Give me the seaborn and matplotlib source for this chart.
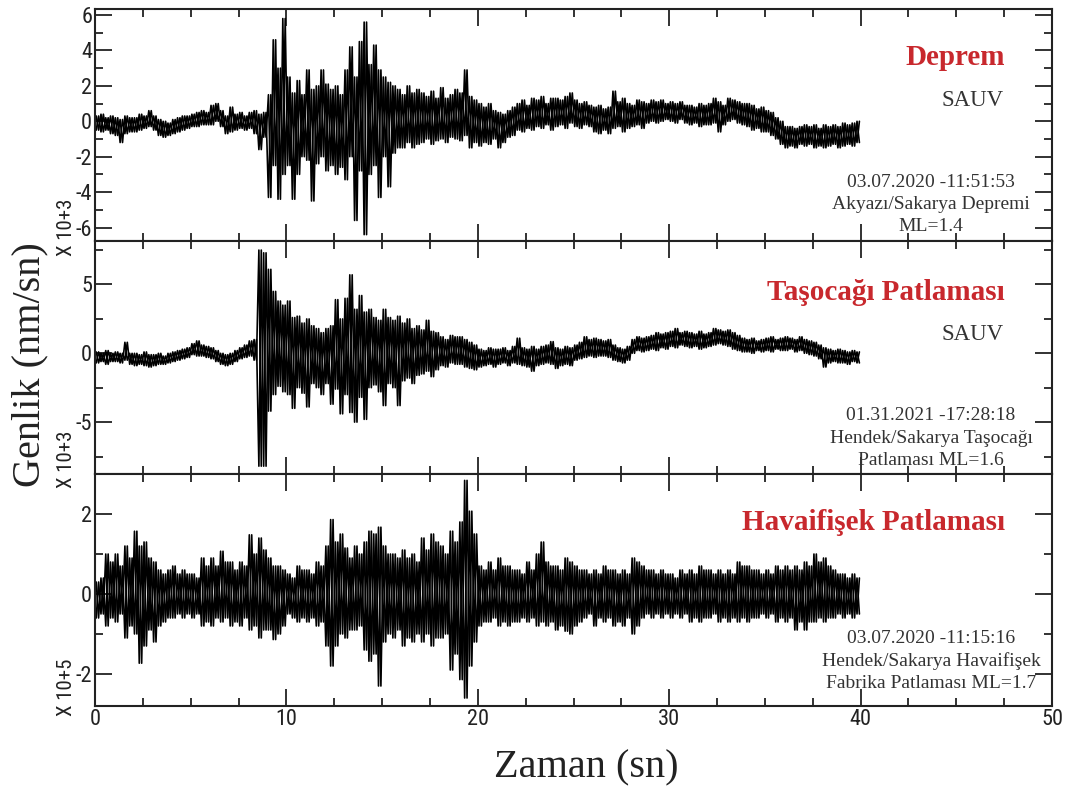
import numpy as np
import pandas as pd
import matplotlib
matplotlib.use("Agg")
import matplotlib.pyplot as plt
import seaborn as sns
from matplotlib import font_manager as fm
from matplotlib.ticker import MultipleLocator

# Envelope of each record: upper / lower peak per 0.25 s window (x 10^3 or 10^5 nm/sn)
DT = 0.25

deprem_hi = [
    0.3, 0.4, 0.2, 0.3,   0.2, 0.1, 0.3, 0.2,   0.2, 0.4, 0.3, 0.6,   0.3, 0.1, 0.0, -0.1,
    0.1, 0.2, 0.3, 0.3,   0.4, 0.5, 0.6, 0.5,   0.9, 1.0, 0.6, 0.3,   0.8, 0.4, 0.5, 0.3,
    0.5, 0.6, 0.4, 0.5,   1.5, 4.6, 3.0, 5.8,   2.5, 1.6, 2.3, 1.5,   2.9, 1.8, 2.0, 2.9,
    2.1, 1.8, 2.0, 1.5,   2.9, 4.2, 2.5, 4.5,   5.6, 3.2, 4.3, 2.9,   2.5, 2.2, 2.0, 1.8,
    1.5, 2.0, 1.6, 1.8,   1.6, 1.4, 1.7, 1.3,   1.9, 1.3, 1.5, 1.8,   1.6, 2.9, 1.4, 1.2,
    1.0, 0.8, 1.0, 0.6,   0.5, 0.4, 0.6, 0.8,   1.0, 1.2, 0.9, 1.3,   1.2, 1.4, 1.0, 1.3,
    1.3, 1.2, 1.4, 1.6,   1.2, 1.0, 1.1, 0.9,   0.8, 0.9, 0.7, 0.8,   1.7, 1.1, 1.3, 1.0,
    0.9, 1.2, 1.1, 1.0,   1.2, 1.1, 1.2, 1.0,   1.1, 1.0, 1.1, 0.9,   0.9, 0.8, 1.0, 0.9,
    1.0, 1.3, 1.1, 0.9,   1.3, 1.2, 1.1, 1.0,   1.0, 0.9, 0.7, 0.8,   0.6, 0.5, 0.2, 0.0,
    -0.3, -0.3, -0.4, -0.3, -0.2, -0.3, -0.2, -0.4, -0.2, -0.3, -0.2, -0.3, -0.1, -0.2, -0.1, 0.0,
]
deprem_lo = [
    -0.5, -0.6, -0.5, -0.7, -0.8, -1.2, -0.7, -0.6, -0.6, -0.5, -0.4, -0.3, -0.5, -0.8, -0.9, -0.8,
    -0.7, -0.6, -0.5, -0.4, -0.3, -0.3, -0.2, -0.2, -0.2, 0.0, -0.3, -0.7, -0.6, -0.5, -0.4, -0.5,
    -0.4, -0.7, -1.6, -0.9, -4.3, -2.5, -4.4, -3.0, -2.5, -4.4, -3.0, -2.0, -2.2, -4.5, -2.4, -2.0,
    -2.8, -2.5, -3.0, -2.6, -3.3, -2.0, -5.6, -2.8, -6.4, -3.0, -2.5, -4.3, -2.0, -3.7, -1.8, -1.5,
    -1.5, -1.2, -1.5, -1.3, -1.2, -1.0, -1.3, -1.1, -1.0, -1.2, -0.9, -1.0, -1.1, -0.8, -1.5, -1.2,
    -1.4, -1.2, -1.3, -1.0, -1.5, -1.2, -0.9, -0.8, -0.5, -0.6, -0.4, -0.5, -0.3, -0.4, -0.2, -0.5,
    -0.3, -0.2, -0.4, -0.1, -0.3, -0.4, -0.2, -0.3, -0.6, -0.7, -0.5, -0.7, -0.4, -0.3, -0.6, -0.4,
    -0.3, -0.2, -0.4, -0.1, 0.0, -0.1, 0.0, 0.1, 0.0, -0.1, 0.1, -0.1, -0.2, -0.1, -0.3, -0.2,
    -0.2, -0.1, -0.6, -0.2, 0.0, 0.1, -0.1, -0.2, -0.3, -0.5, -0.4, -0.6, -0.6, -0.8, -1.0, -1.3,
    -1.5, -1.4, -1.5, -1.3, -1.4, -1.3, -1.5, -1.4, -1.5, -1.4, -1.3, -1.5, -1.4, -1.3, -1.4, -1.2,
]

tasocagi_hi = [
    0.1, 0.0, 0.2, 0.0,   0.1, 0.0, 0.8, 0.0,   0.0, -0.1, 0.1, -0.1, -0.1, 0.0, -0.2, 0.0,
    0.1, 0.2, 0.3, 0.4,   0.7, 0.9, 0.6, 0.5,   0.4, 0.2, 0.0, -0.1,  0.0, 0.2, 0.4, 0.6,
    0.9, 1.0, 7.5, 7.3,   6.1, 4.5, 3.8, 3.5,   3.8, 2.6, 2.7, 2.2,   2.5, 2.0, 1.8, 1.5,
    1.8, 2.0, 3.9, 2.5,   4.0, 5.7, 3.2, 4.2,   3.0, 3.2, 2.6, 2.4,   3.2, 2.6, 2.4, 2.7,
    2.2, 2.5, 1.8, 2.0,   1.7, 2.4, 1.6, 1.5,   1.2, 1.0, 1.3, 1.2,   1.2, 1.0, 0.8, 0.6,
    0.3, 0.2, 0.4, 0.3,   0.3, 0.4, 0.2, 0.5,   1.1, 0.4, 0.3, 0.5,   0.3, 0.5, 0.6, 0.85,
    0.4, 0.3, 0.5, 0.4,   0.6, 0.8, 1.2, 1.0,   1.1, 1.0, 0.9, 1.0,   0.6, 0.4, 0.3, 0.5,
    1.0, 1.2, 1.1, 1.2,   1.3, 1.5, 1.4, 1.5,   1.6, 1.8, 1.5, 1.6,   1.5, 1.4, 1.6, 1.4,
    1.5, 1.8, 1.7, 1.6,   1.7, 1.5, 1.3, 1.1,   1.0, 1.1, 0.9, 1.0,   1.1, 1.2, 1.0, 1.1,
    1.2, 1.1, 1.0, 1.2,   1.0, 0.9, 0.8, 0.6,   0.4, 0.3, 0.2, 0.3,   0.2, 0.1, 0.2, 0.1,
]
tasocagi_lo = [
    -0.7, -0.6, -0.8, -0.6, -0.6, -0.7, -0.5, -0.8, -0.9, -0.8, -0.9, -1.0, -0.9, -0.8, -0.8, -0.7,
    -0.6, -0.5, -0.4, -0.3, -0.1, -0.2, -0.2, -0.3, -0.4, -0.6, -0.8, -0.9, -0.8, -0.6, -0.4, -0.3,
    -0.2, -0.5, -8.2, -8.2, -4.2, -3.0, -2.4, -2.8, -3.0, -4.0, -2.5, -2.9, -3.9, -2.2, -2.5, -3.0,
    -2.2, -3.7, -2.6, -4.4, -3.0, -4.3, -5.0, -3.2, -4.8, -2.5, -2.3, -2.8, -3.8, -2.2, -2.5, -3.8,
    -2.0, -1.8, -2.2, -1.6, -1.5, -1.3, -1.7, -1.2, -0.9, -1.0, -0.7, -0.8, -0.8, -1.0, -1.1, -1.2,
    -1.0, -0.9, -0.8, -1.0, -0.8, -0.7, -0.9, -0.7, -0.8, -0.9, -1.0, -1.3, -0.9, -0.8, -0.7, -0.8,
    -1.1, -0.9, -0.8, -0.9, -0.5, -0.4, -0.3, -0.2, -0.3, -0.2, -0.2, -0.3, -0.5, -0.6, -0.7, -0.5,
    0.0, 0.2, 0.1, 0.2,   0.3, 0.2, 0.4, 0.3,   0.5, 0.4, 0.6, 0.5,   0.4, 0.5, 0.3, 0.4,
    0.5, 0.6, 0.7, 0.6,   0.5, 0.3, 0.2, 0.1,   0.1, 0.0, 0.2, 0.1,   0.2, 0.1, 0.3, 0.2,
    0.2, 0.3, 0.1, 0.2,   0.0, -0.1, -0.2, -0.4, -1.0, -0.7, -0.6, -0.7, -0.7, -0.8, -0.6, -0.7,
]

havaifisek_hi = [
    0.3, 0.4, 1.0, 0.8,   1.0, 0.7, 1.2, 0.9,   1.57, 1.2, 1.3, 0.9,  0.8, 0.6, 0.5, 0.6,
    0.7, 0.5, 0.6, 0.5,   0.5, 0.4, 0.9, 0.7,   0.9, 0.7, 1.07, 0.8,  0.8, 0.6, 0.8, 0.7,
    1.48, 1.0, 1.4, 1.1,  0.9, 0.7, 0.7, 0.6,   0.5, 0.4, 0.7, 0.6,   0.6, 0.5, 0.8, 0.7,
    1.2, 1.86, 1.3, 1.5,  1.15, 0.9, 1.2, 1.0,  1.3, 1.57, 1.5, 1.67, 1.2, 1.0, 1.0, 0.9,
    1.1, 0.9, 1.0, 0.8,   1.4, 1.1, 1.5, 1.3,   1.2, 1.0, 1.57, 1.3,  1.8, 2.84, 2.07, 1.5,
    0.7, 0.6, 0.8, 0.6,   0.9, 0.7, 0.7, 0.6,   0.6, 0.5, 0.8, 0.6,   1.0, 1.3, 0.8, 0.7,
    0.7, 0.6, 0.9, 0.8,   0.7, 0.6, 0.6, 0.5,   0.6, 0.5, 0.7, 0.6,   0.6, 0.5, 0.6, 0.5,
    0.9, 0.8, 0.7, 0.6,   0.6, 0.5, 0.6, 0.5,   0.5, 0.4, 0.6, 0.5,   0.6, 0.5, 0.7, 0.6,
    0.6, 0.5, 0.6, 0.5,   0.6, 0.5, 0.8, 0.7,   0.7, 0.6, 0.6, 0.5,   0.6, 0.5, 0.7, 0.6,
    0.7, 0.6, 0.7, 0.6,   0.8, 0.7, 1.0, 0.8,   0.9, 0.7, 0.6, 0.5,   0.5, 0.4, 0.5, 0.4,
]
havaifisek_lo = [
    -0.6, -0.5, -0.8, -0.6, -0.7, -0.5, -1.1, -0.8, -1.0, -1.73, -1.3, -0.9, -1.2, -0.8, -0.7, -0.6,
    -0.6, -0.5, -0.6, -0.5, -0.6, -0.5, -0.8, -0.7, -0.8, -0.6, -0.7, -0.6, -0.8, -0.7, -0.8, -0.6,
    -0.9, -0.8, -1.1, -0.9, -0.9, -1.14, -1.0, -0.8, -0.5, -0.6, -0.7, -0.6, -0.7, -0.6, -0.8, -0.7,
    -1.3, -1.8, -1.3, -1.0, -1.1, -0.9, -0.9, -0.8, -1.4, -1.68, -1.5, -2.3, -1.2, -1.0, -1.1, -0.9,
    -1.3, -1.1, -1.2, -1.0, -1.2, -1.0, -1.3, -1.1, -1.1, -1.0, -1.9, -1.5, -2.14, -2.6, -1.8, -1.2,
    -0.8, -0.7, -0.7, -0.6, -0.8, -0.7, -0.8, -0.7, -0.7, -0.6, -0.7, -0.6, -0.8, -0.7, -0.8, -0.7,
    -0.9, -0.8, -0.93, -1.0, -0.8, -0.7, -0.6, -0.5, -0.8, -0.6, -0.7, -0.6, -0.8, -0.7, -0.8, -0.6,
    -1.0, -0.8, -0.6, -0.5, -0.6, -0.5, -0.6, -0.5, -0.6, -0.5, -0.6, -0.5, -0.7, -0.6, -0.7, -0.6,
    -0.6, -0.5, -0.7, -0.6, -0.7, -0.6, -0.7, -0.6, -0.7, -0.6, -0.6, -0.5, -0.6, -0.5, -0.7, -0.6,
    -0.7, -0.6, -0.9, -0.7, -0.9, -0.7, -0.7, -0.6, -0.7, -0.6, -0.6, -0.5, -0.6, -0.5, -0.6, -0.5,
]

titles = ["Deprem", "Taşocağı Patlaması", "Havaifişek Patlaması"]
stations = ["SAUV", "SAUV", ""]
exponents = ["X 10+3", "X 10+3", "X 10+5"]
info_lines = [
    ["03.07.2020 -11:51:53", "Akyazı/Sakarya Depremi", "ML=1.4"],
    ["01.31.2021 -17:28:18", "Hendek/Sakarya Taşocağı", "Patlaması ML=1.6"],
    ["03.07.2020 -11:15:16", "Hendek/Sakarya Havaifişek", "Fabrika Patlaması ML=1.7"],
]
x_ticks = [0, 10, 20, 30, 40, 50]

sns.set_theme(style="ticks")
installed = {f.name for f in fm.fontManager.ttflist}
narrow = next((f for f in ["Liberation Sans Narrow", "Roboto Condensed", "Liberation Sans"]
               if f in installed), "DejaVu Sans")
serif = ["Liberation Serif", "DejaVu Serif"]
plt.rcParams["font.family"] = [narrow, "DejaVu Sans"]
plt.rcParams["axes.unicode_minus"] = False

W, H = 1068, 792
fig = plt.figure(figsize=(W / 100, H / 100), dpi=100)
fig.patch.set_facecolor("white")


def fx(px):
    return px / W


def fy(py):
    return 1 - py / H


def trace(hi, lo, upper_first=True):
    # one polyline running through the upper and lower peak of every window
    t0 = np.arange(len(hi)) * DT
    t = np.column_stack([t0 + DT * 0.25, t0 + DT * 0.75]).ravel()
    first, second = (hi, lo) if upper_first else (lo, hi)
    a = np.column_stack([first, second]).ravel()
    return pd.DataFrame({"t": t, "amp": a})


panels = [
    dict(hi=deprem_hi, lo=deprem_lo, top=9, bot=241, ylim=(-6.76, 6.34), major=2, minor=1,
         title_y=65, station_y=106, info_y=[187, 209, 231], exp_y=256),
    dict(hi=tasocagi_hi, lo=tasocagi_lo, top=241, bot=474, ylim=(-8.77, 8.16), major=5, minor=2.5,
         title_y=300, station_y=340, info_y=[420, 443, 465], exp_y=488),
    dict(hi=havaifisek_hi, lo=havaifisek_lo, top=474, bot=706, ylim=(-2.8, 3.0), major=2, minor=1,
         title_y=530, station_y=None, info_y=[643, 666, 688], exp_y=716),
]

red = "#c8282d"
txt = "#333333"
for i, p in enumerate(panels):
    ax = fig.add_axes([fx(95), fy(p["bot"]), fx(957), (p["bot"] - p["top"]) / H])
    for upper_first in (True, False):
        sns.lineplot(data=trace(p["hi"], p["lo"], upper_first), x="t", y="amp", ax=ax,
                     color="black", lw=1.2, sort=False, estimator=None)
    ax.set_xlim(0, 50)
    ax.set_ylim(*p["ylim"])
    ax.xaxis.set_major_locator(MultipleLocator(10))
    ax.xaxis.set_minor_locator(MultipleLocator(2.5))
    ax.yaxis.set_major_locator(MultipleLocator(p["major"]))
    ax.yaxis.set_minor_locator(MultipleLocator(p["minor"]))
    ax.tick_params(which="both", direction="in", top=True, right=True, colors="#222222",
                   labelsize=16, pad=2, width=1.3)
    ax.tick_params(which="major", length=12)
    ax.tick_params(which="minor", length=6)
    ax.set_xlabel("")
    ax.set_ylabel("")
    for s in ax.spines.values():
        s.set_linewidth(1.5)
        s.set_color("#222222")
    ax.set_facecolor("white")
    if i < 2:
        ax.tick_params(labelbottom=False)
    else:
        ax.set_xticks(x_ticks)
        ax.set_xticklabels([str(v) for v in x_ticks])

    fig.text(fx(1005), fy(p["title_y"]), titles[i], ha="right", va="baseline", color=red,
             fontsize=21, fontweight="bold", family=serif)
    if stations[i]:
        fig.text(fx(1004), fy(p["station_y"]), stations[i], ha="right", va="baseline",
                 color=txt, fontsize=16.5, family=serif)
    for line, yy in zip(info_lines[i], p["info_y"]):
        fig.text(fx(931), fy(yy), line, ha="center", va="baseline", color=txt,
                 fontsize=14, family=serif)
    fig.text(fx(66), fy(p["exp_y"]), exponents[i], rotation=90, ha="center", va="bottom",
             fontsize=15, color="#222222")

fig.text(fx(30), fy(365), "Genlik (nm/sn)", rotation=90, ha="center", va="center",
         fontsize=29, family=serif, color="#222222")
fig.text(fx(586), fy(768), "Zaman (sn)", ha="center", va="center",
         fontsize=29, family=serif, color="#222222")

fig.savefig("out.png", dpi=100, facecolor="white")
